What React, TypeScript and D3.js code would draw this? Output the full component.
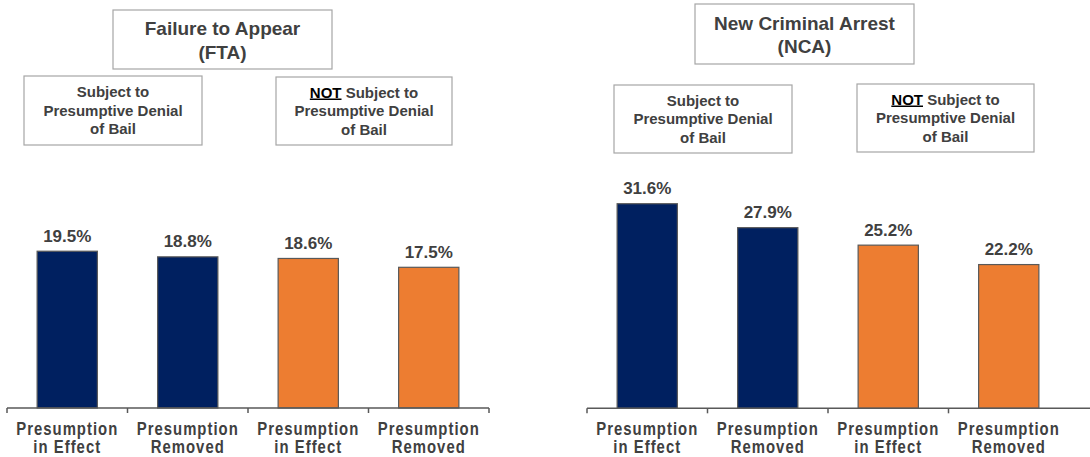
import React from "react";
import * as d3 from "d3";

const categories = ["c1", "c2", "c3", "c4"];
const categoryLines = [
  ["Presumption", "in Effect"],
  ["Presumption", "Removed"],
  ["Presumption", "in Effect"],
  ["Presumption", "Removed"],
];
const groupOf = ["subject", "subject", "not", "not"];
const ftaValues = [19.5, 18.8, 18.6, 17.5];
const ncaValues = [31.6, 27.9, 25.2, 22.2];
const ftaTitle = ["Failure to Appear", "(FTA)"];
const ncaTitle = ["New Criminal Arrest", "(NCA)"];

const NAVY = "#002060";
const ORANGE = "#ED7D31";
const TEXT = "#404040";
const BOX = "#a6a6a6";
const FONT = "'Liberation Sans', Arial, sans-serif";

type BoxProps = { x: number; y: number; w: number; h: number; children?: React.ReactNode };
const Box = ({ x, y, w, h, children }: BoxProps) => (
  <g>
    <rect x={x} y={y} width={w} height={h} fill="#fff" stroke={BOX} strokeWidth={1.2} />
    {children}
  </g>
);

function TitleBox({ x, y, w, h, lines, base }: { x: number; y: number; w: number; h: number; lines: string[]; base: number }) {
  return (
    <Box x={x} y={y} w={w} h={h}>
      {lines.map((l, i) => (
        <text
          key={i}
          x={x + w / 2}
          y={base + i * 23.5}
          textAnchor="middle"
          fontSize={19}
          fontWeight="bold"
          fill={TEXT}
          fontFamily={FONT}
        >
          {l}
        </text>
      ))}
    </Box>
  );
}

function SubjectBox({ x, y, w, h, not, base }: { x: number; y: number; w: number; h: number; not: boolean; base: number }) {
  const cx = x + w / 2;
  const lh = 18.5;
  const common = { x: cx, textAnchor: "middle" as const, fontSize: 15, fontWeight: "bold", fill: TEXT, fontFamily: FONT };
  return (
    <Box x={x} y={y} w={w} h={h}>
      <text {...common} y={base}>
        {not ? (
          <>
            <tspan fill="#000" textDecoration="underline">NOT</tspan>
            <tspan> Subject to</tspan>
          </>
        ) : (
          "Subject to"
        )}
      </text>
      <text {...common} y={base + lh}>
        Presumptive Denial
      </text>
      <text {...common} y={base + lh * 2}>
        of Bail
      </text>
    </Box>
  );
}

type PanelProps = {
  values: number[];
  x0: number;
  x1: number;
  axisEnd: number;
  tickCount: number;
  baseY: number;
  yMax: number;
  topY: number;
};

function Panel({ values, x0, x1, axisEnd, tickCount, baseY, yMax, topY }: PanelProps) {
  const x = d3.scaleBand<string>().domain(categories).range([x0, x1]).paddingInner(0.5).paddingOuter(0.25);
  const y = d3.scaleLinear().domain([0, yMax]).range([baseY, topY]);
  const step = x.step();
  const ticks = d3.range(tickCount).map((i) => x0 + i * step);
  return (
    <g>
      {categories.map((c, i) => {
        const v = values[i];
        const bx = x(c)!;
        const bw = x.bandwidth();
        const cx = bx + bw / 2;
        return (
          <g key={c}>
            <rect
              x={bx}
              y={y(v)}
              width={bw}
              height={baseY - y(v)}
              fill={groupOf[i] === "subject" ? NAVY : ORANGE}
              stroke="#595959"
              strokeWidth={1.2}
            />
            <text
              x={cx}
              y={y(v) - 9.5}
              textAnchor="middle"
              fontSize={17}
              fontWeight="bold"
              fill={TEXT}
              fontFamily={FONT}
            >
              {d3.format(".1f")(v) + "%"}
            </text>
            {categoryLines[i].map((line, j) => (
              <text
                key={j}
                transform={`translate(${cx},${435 + j * 18}) scale(0.85,1)`}
                textAnchor="middle"
                fontSize={17.5}
                fontWeight="bold"
                letterSpacing={1.2}
                fill={TEXT}
                fontFamily={FONT}
              >
                {line}
              </text>
            ))}
          </g>
        );
      })}
      <line x1={x0} x2={axisEnd} y1={baseY} y2={baseY} stroke="#595959" strokeWidth={1.5} />
      {ticks.map((t, i) => (
        <line key={i} x1={t} x2={t} y1={baseY} y2={baseY + 5} stroke="#595959" strokeWidth={1.5} />
      ))}
    </g>
  );
}

export default function App() {
  return (
    <svg
      width={1090}
      height={457}
      style={{ position: "absolute", left: 0, top: 0, background: "#fff" }}
    >
      <rect width={1090} height={457} fill="#fff" />

      {/* Failure to Appear panel */}
      <TitleBox x={113} y={10} w={219} h={59} lines={ftaTitle} base={35} />
      <SubjectBox x={24} y={76} w={178} h={69} not={false} base={97} />
      <SubjectBox x={276} y={77} w={176} h={68} not={true} base={97.5} />
      <Panel values={ftaValues} x0={7} x1={489} axisEnd={489} tickCount={5} baseY={408} yMax={25} topY={207} />

      {/* New Criminal Arrest panel */}
      <TitleBox x={695} y={4} w={219} h={60} lines={ncaTitle} base={29.5} />
      <SubjectBox x={614} y={85} w={178} h={68} not={false} base={105.5} />
      <SubjectBox x={857} y={84} w={177} h={68} not={true} base={104.5} />
      <Panel values={ncaValues} x0={587} x1={1069} axisEnd={1090} tickCount={4} baseY={408.3} yMax={35} topY={181.7} />
    </svg>
  );
}
